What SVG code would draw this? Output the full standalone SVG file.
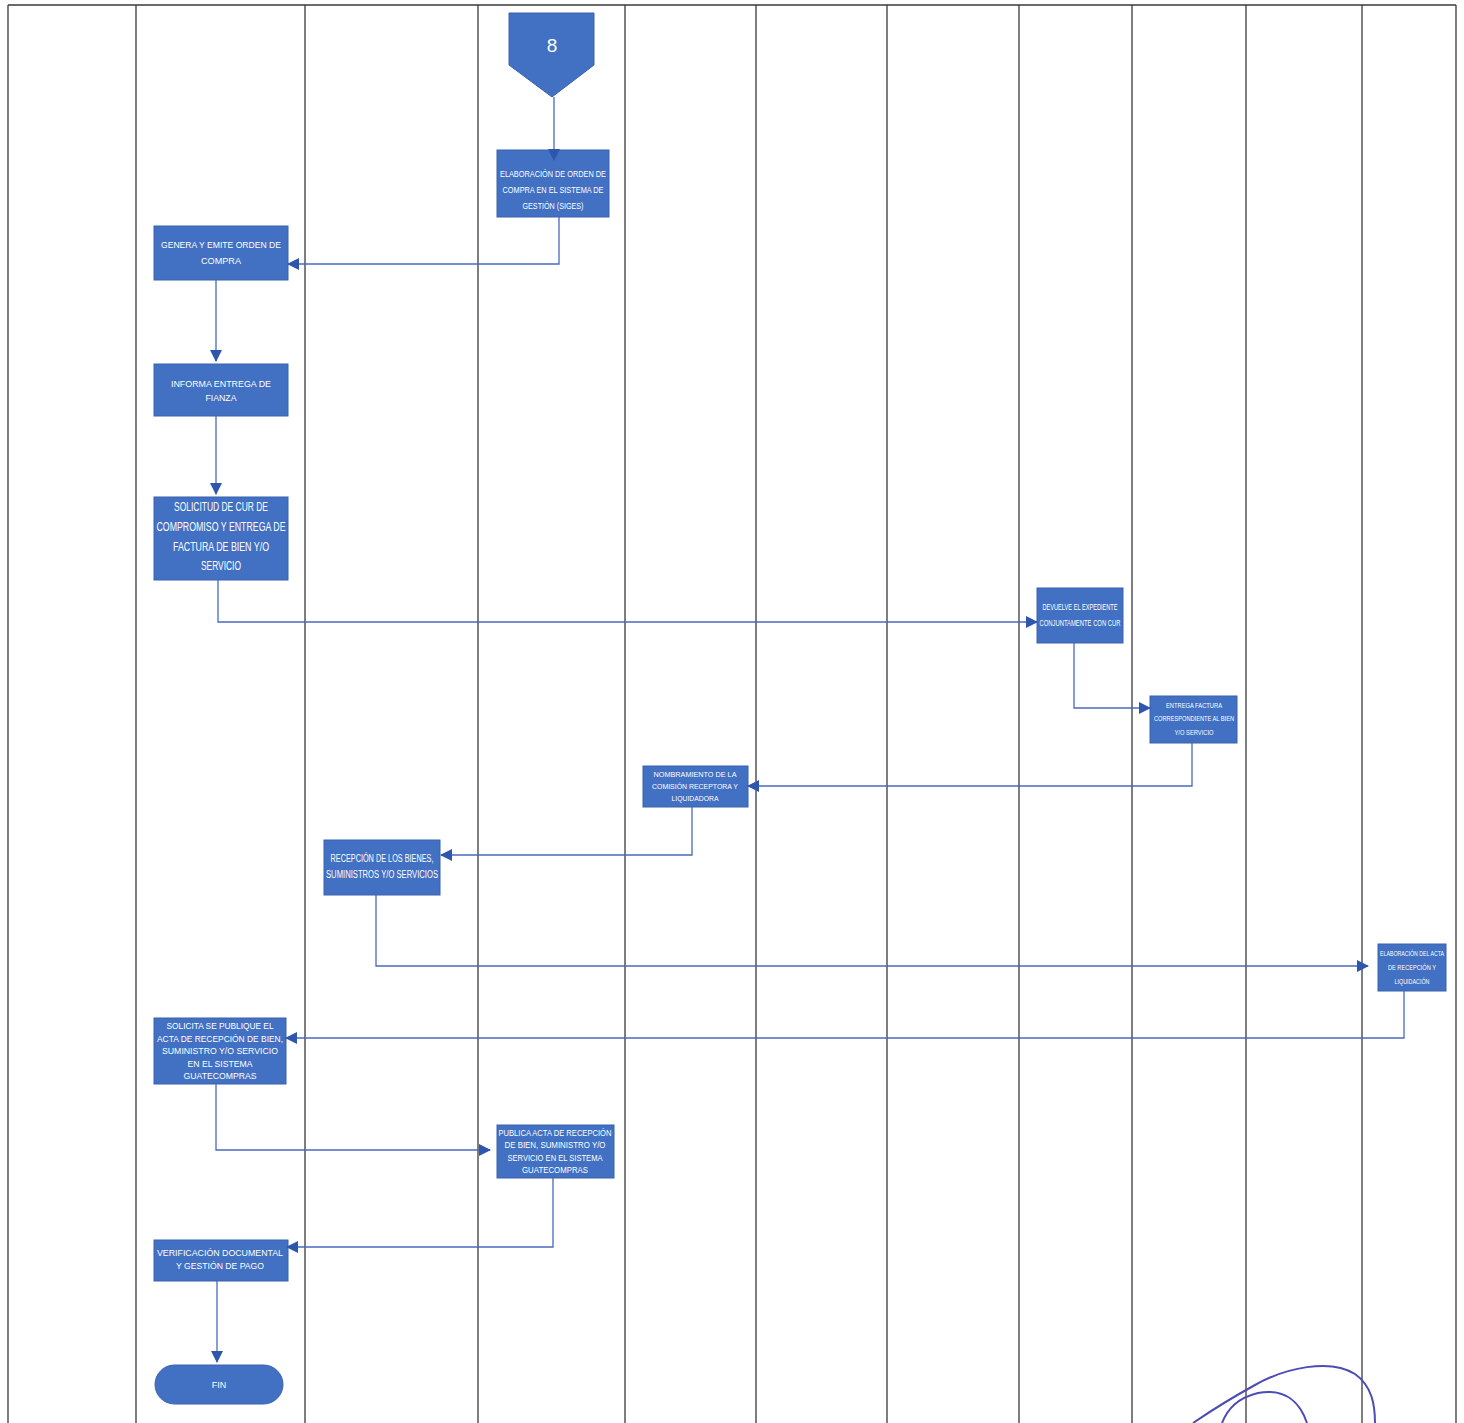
<svg xmlns="http://www.w3.org/2000/svg" width="1464" height="1423" viewBox="0 0 1464 1423">
<style>
.lane{stroke:#3a3a3a;stroke-width:1.3;fill:none}
.box{fill:#4270c2;stroke:#3a62ad;stroke-width:1}
.t{fill:#ffffff;font-family:"Liberation Sans",Arial,sans-serif;text-anchor:middle;dominant-baseline:central}
.c{stroke:#4a68c0;stroke-width:1.3;fill:none}
</style>
<defs>
<marker id="ah" markerWidth="12" markerHeight="12" refX="11" refY="6" orient="auto" markerUnits="userSpaceOnUse">
<path d="M0,0 L12,6 L0,12 Z" fill="#2f56ad"/>
</marker>
</defs>
<rect width="1464" height="1423" fill="#ffffff"/>
<g id="lanes">
<line class="lane" x1="8" y1="5" x2="1456" y2="5"/>
<line class="lane" x1="8" y1="5" x2="8" y2="1423"/>
<line class="lane" x1="136" y1="5" x2="136" y2="1423"/>
<line class="lane" x1="305" y1="5" x2="305" y2="1423"/>
<line class="lane" x1="478" y1="5" x2="478" y2="1423"/>
<line class="lane" x1="625" y1="5" x2="625" y2="1423"/>
<line class="lane" x1="756" y1="5" x2="756" y2="1423"/>
<line class="lane" x1="887" y1="5" x2="887" y2="1423"/>
<line class="lane" x1="1019" y1="5" x2="1019" y2="1423"/>
<line class="lane" x1="1132" y1="5" x2="1132" y2="1423"/>
<line class="lane" x1="1246" y1="5" x2="1246" y2="1423"/>
<line class="lane" x1="1362" y1="5" x2="1362" y2="1423"/>
<line class="lane" x1="1456" y1="5" x2="1456" y2="1423"/>
</g>
<g id="n8">
<path d="M509,13 L594,13 L594,65 L552,97 L509,65 Z" fill="#4270c2" stroke="#3a62ad"/>
<text class="t" x="552" y="45" font-size="19">8</text>
</g>
<g id="elaboracion">
<rect class="box" x="497" y="150" width="112" height="67"/>
<text class="t" font-size="9.5" x="553" y="173" textLength="106" lengthAdjust="spacingAndGlyphs">ELABORACIÓN DE ORDEN DE</text>
<text class="t" font-size="9.5" x="553" y="189" textLength="101" lengthAdjust="spacingAndGlyphs">COMPRA EN EL SISTEMA DE</text>
<text class="t" font-size="9.5" x="553" y="205" textLength="61" lengthAdjust="spacingAndGlyphs">GESTIÓN (SIGES)</text>
</g>
<g id="genera">
<rect class="box" x="154" y="226" width="134" height="54"/>
<text class="t" font-size="9.5" x="221" y="244" textLength="120" lengthAdjust="spacingAndGlyphs">GENERA Y EMITE ORDEN DE</text>
<text class="t" font-size="9.5" x="221" y="260" textLength="40" lengthAdjust="spacingAndGlyphs">COMPRA</text>
</g>
<g id="informa">
<rect class="box" x="154" y="364" width="134" height="52"/>
<text class="t" font-size="9.5" x="221" y="383" textLength="100" lengthAdjust="spacingAndGlyphs">INFORMA ENTREGA DE</text>
<text class="t" font-size="9.5" x="221" y="397" textLength="31" lengthAdjust="spacingAndGlyphs">FIANZA</text>
</g>
<g id="solicitud">
<rect class="box" x="154" y="497" width="134" height="83"/>
<text class="t" font-size="12" x="221" y="507" textLength="94" lengthAdjust="spacingAndGlyphs">SOLICITUD DE CUR DE</text>
<text class="t" font-size="12" x="221" y="527" textLength="129" lengthAdjust="spacingAndGlyphs">COMPROMISO Y ENTREGA DE</text>
<text class="t" font-size="12" x="221" y="547" textLength="96" lengthAdjust="spacingAndGlyphs">FACTURA DE BIEN Y/O</text>
<text class="t" font-size="12" x="221" y="566" textLength="40" lengthAdjust="spacingAndGlyphs">SERVICIO</text>
</g>
<g id="devuelve">
<rect class="box" x="1037" y="588" width="86" height="55"/>
<text class="t" font-size="9" x="1080" y="607" textLength="75" lengthAdjust="spacingAndGlyphs">DEVUELVE EL EXPEDIENTE</text>
<text class="t" font-size="9" x="1080" y="623" textLength="81" lengthAdjust="spacingAndGlyphs">CONJUNTAMENTE CON CUR</text>
</g>
<g id="entrega">
<rect class="box" x="1150" y="696" width="87" height="47"/>
<text class="t" font-size="7" x="1194" y="705" textLength="56" lengthAdjust="spacingAndGlyphs">ENTREGA FACTURA</text>
<text class="t" font-size="7" x="1194" y="718" textLength="80" lengthAdjust="spacingAndGlyphs">CORRESPONDIENTE AL BIEN</text>
<text class="t" font-size="7" x="1194" y="732" textLength="39" lengthAdjust="spacingAndGlyphs">Y/O SERVICIO</text>
</g>
<g id="nombramiento">
<rect class="box" x="643" y="766" width="105" height="41"/>
<text class="t" font-size="7" x="695" y="774" textLength="83" lengthAdjust="spacingAndGlyphs">NOMBRAMIENTO DE LA</text>
<text class="t" font-size="7" x="695" y="786" textLength="86" lengthAdjust="spacingAndGlyphs">COMISIÓN RECEPTORA Y</text>
<text class="t" font-size="7" x="695" y="798" textLength="47" lengthAdjust="spacingAndGlyphs">LIQUIDADORA</text>
</g>
<g id="recepcion">
<rect class="box" x="324" y="840" width="116" height="55"/>
<text class="t" font-size="10" x="382" y="858" textLength="103" lengthAdjust="spacingAndGlyphs">RECEPCIÓN DE LOS BIENES,</text>
<text class="t" font-size="10" x="382" y="874" textLength="112" lengthAdjust="spacingAndGlyphs">SUMINISTROS Y/O SERVICIOS</text>
</g>
<g id="elaboracion-acta">
<rect class="box" x="1378" y="944" width="68" height="47"/>
<text class="t" font-size="7" x="1412" y="953" textLength="64" lengthAdjust="spacingAndGlyphs">ELABORACIÓN DEL ACTA</text>
<text class="t" font-size="7" x="1412" y="967" textLength="48" lengthAdjust="spacingAndGlyphs">DE RECEPCIÓN Y</text>
<text class="t" font-size="7" x="1412" y="981" textLength="35" lengthAdjust="spacingAndGlyphs">LIQUIDACIÓN</text>
</g>
<g id="solicita">
<rect class="box" x="154" y="1018" width="132" height="66"/>
<text class="t" font-size="9" x="220" y="1026" textLength="107" lengthAdjust="spacingAndGlyphs">SOLICITA SE PUBLIQUE EL</text>
<text class="t" font-size="9" x="220" y="1039" textLength="126" lengthAdjust="spacingAndGlyphs">ACTA DE RECEPCIÓN DE BIEN,</text>
<text class="t" font-size="9" x="220" y="1051" textLength="116" lengthAdjust="spacingAndGlyphs">SUMINISTRO Y/O SERVICIO</text>
<text class="t" font-size="9" x="220" y="1064" textLength="65" lengthAdjust="spacingAndGlyphs">EN EL SISTEMA</text>
<text class="t" font-size="9" x="220" y="1076" textLength="73" lengthAdjust="spacingAndGlyphs">GUATECOMPRAS</text>
</g>
<g id="publica">
<rect class="box" x="497" y="1125" width="117" height="53"/>
<text class="t" font-size="9" x="555" y="1133" textLength="113" lengthAdjust="spacingAndGlyphs">PUBLICA ACTA DE RECEPCIÓN</text>
<text class="t" font-size="9" x="555" y="1145" textLength="101" lengthAdjust="spacingAndGlyphs">DE BIEN, SUMINISTRO Y/O</text>
<text class="t" font-size="9" x="555" y="1158" textLength="95" lengthAdjust="spacingAndGlyphs">SERVICIO EN EL SISTEMA</text>
<text class="t" font-size="9" x="555" y="1170" textLength="66" lengthAdjust="spacingAndGlyphs">GUATECOMPRAS</text>
</g>
<g id="verificacion">
<rect class="box" x="154" y="1240" width="134" height="41"/>
<text class="t" font-size="9" x="220" y="1253" textLength="126" lengthAdjust="spacingAndGlyphs">VERIFICACIÓN DOCUMENTAL</text>
<text class="t" font-size="9" x="220" y="1266" textLength="88" lengthAdjust="spacingAndGlyphs">Y GESTIÓN DE PAGO</text>
</g>
<g id="fin">
<rect class="box" x="155" y="1365" width="128" height="39" rx="19.5" ry="19.5"/>
<text class="t" font-size="9" x="219" y="1385">FIN</text>
</g>
<g id="connectors">
<path class="c" d="M554,97 L554,160" marker-end="url(#ah)"/>
<path class="c" d="M559,217 L559,264 L288,264" marker-end="url(#ah)"/>
<path class="c" d="M216,280 L216,361" marker-end="url(#ah)"/>
<path class="c" d="M216,416 L216,494" marker-end="url(#ah)"/>
<path class="c" d="M218,580 L218,622 L1037,622" marker-end="url(#ah)"/>
<path class="c" d="M1074,643 L1074,708 L1150,708" marker-end="url(#ah)"/>
<path class="c" d="M1192,743 L1192,786 L748,786" marker-end="url(#ah)"/>
<path class="c" d="M692,807 L692,855 L441,855" marker-end="url(#ah)"/>
<path class="c" d="M376,895 L376,966 L1368,966" marker-end="url(#ah)"/>
<path class="c" d="M1404,991 L1404,1038 L286,1038" marker-end="url(#ah)"/>
<path class="c" d="M216,1084 L216,1150 L490,1150" marker-end="url(#ah)"/>
<path class="c" d="M553,1178 L553,1247 L287,1247" marker-end="url(#ah)"/>
<path class="c" d="M217,1281 L217,1362" marker-end="url(#ah)"/>
</g>
<g id="signature" fill="none" stroke="#4c4cb4" stroke-width="2">
<path d="M1193,1423 C1215,1408 1235,1396 1255,1385 C1285,1368 1330,1358 1355,1374 C1372,1386 1375,1405 1375,1423"/>
<path d="M1222,1423 C1228,1408 1238,1398 1258,1393 C1285,1388 1300,1402 1307,1423"/>
</g>
</svg>
